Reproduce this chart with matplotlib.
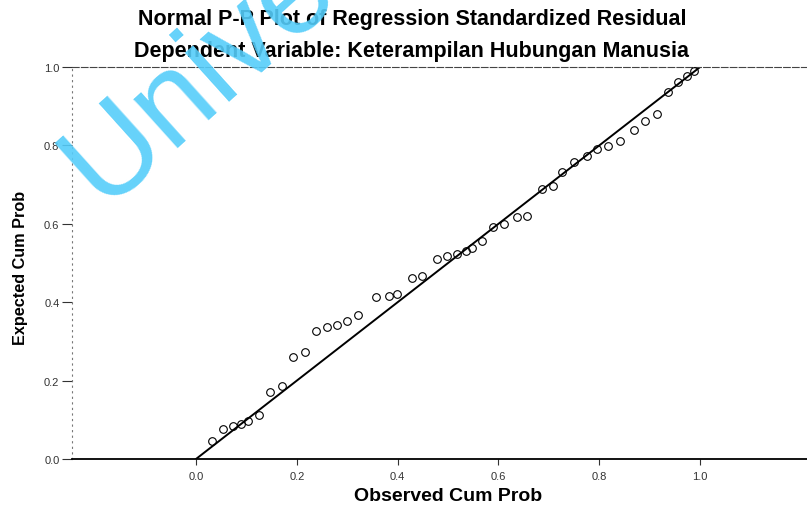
import matplotlib.pyplot as plt

# --- data ---
observed = [0.031, 0.054, 0.074, 0.090, 0.104, 0.124, 0.147, 0.170, 0.193, 0.216,
            0.239, 0.259, 0.279, 0.299, 0.322, 0.358, 0.382, 0.398, 0.428, 0.448,
            0.478, 0.497, 0.517, 0.535, 0.548, 0.568, 0.590, 0.610, 0.636, 0.656,
            0.686, 0.709, 0.726, 0.749, 0.775, 0.795, 0.818, 0.841, 0.868, 0.891,
            0.914, 0.937, 0.957, 0.974, 0.987]
expected = [0.047, 0.077, 0.083, 0.090, 0.098, 0.112, 0.170, 0.187, 0.259, 0.274,
            0.327, 0.336, 0.342, 0.353, 0.368, 0.412, 0.417, 0.420, 0.463, 0.466,
            0.510, 0.519, 0.524, 0.530, 0.538, 0.556, 0.591, 0.599, 0.617, 0.621,
            0.689, 0.697, 0.731, 0.757, 0.774, 0.791, 0.799, 0.812, 0.840, 0.863,
            0.880, 0.935, 0.961, 0.978, 0.991]
ref_line = [0.0, 1.0]
ticks = [0.0, 0.2, 0.4, 0.6, 0.8, 1.0]
tick_labels = ['0.0', '0.2', '0.4', '0.6', '0.8', '1.0']

plt.rcParams['font.family'] = ['Liberation Sans', 'DejaVu Sans']

fig = plt.figure(figsize=(8.07, 5.06), dpi=100)
ax = fig.add_axes([72 / 807, 46 / 506, 735 / 807, 392 / 506])

ax.plot(ref_line, ref_line, color='black', lw=1.4, zorder=2)
ax.plot(observed, expected, linestyle='none', marker='o', markersize=5.5,
        markerfacecolor='none', markeredgecolor='black', markeredgewidth=0.8, zorder=3)

ax.set_xlim(-0.246, 1.212)
ax.set_ylim(0, 1)
ax.set_xticks(ticks)
ax.set_xticklabels(tick_labels)
ax.set_yticks(ticks)
ax.set_yticklabels(tick_labels)
ax.tick_params(axis='both', direction='out', labelsize=8, colors='#333333')
ax.tick_params(axis='x', length=4, pad=5)
ax.tick_params(axis='y', length=7, pad=2)

ax.spines['right'].set_visible(False)
ax.spines['top'].set_linestyle((0, (6, 2)))
ax.spines['top'].set_color('#444444')
ax.spines['left'].set_linestyle((0, (1, 4)))
ax.spines['left'].set_color('#777777')
ax.spines['bottom'].set_linewidth(1.3)

ax.set_xlabel('Observed Cum Prob', fontsize=14, fontweight='bold')
ax.set_ylabel('Expected Cum Prob', fontsize=11.7, fontweight='bold')
ax.xaxis.set_label_coords((448 - 72) / 735, -(497 - 460) / 392)
ax.yaxis.set_label_coords(-(72 - 21) / 735, 0.49)
ax.xaxis.label.set_va('center')
ax.yaxis.label.set_va('center')

fig.text(412 / 807, 1 - 20 / 506, 'Normal P-P Plot of Regression Standardized Residual',
         ha='center', va='center', fontsize=15.5, fontweight='bold')
fig.text(411 / 807, 1 - 52 / 506, 'Dependent Variable: Keterampilan Hubungan Manusia',
         ha='center', va='center', fontsize=15.5, fontweight='bold')

# watermark from the scanned source (runs off the top edge, as in the scan)
fig.text(103 / 807, 1 - 207 / 506, 'Universitas', rotation=42, rotation_mode='anchor',
         ha='left', va='baseline', fontsize=90, color='#55CDFA', alpha=0.9, zorder=10)

fig.savefig('out.png', dpi=100)
